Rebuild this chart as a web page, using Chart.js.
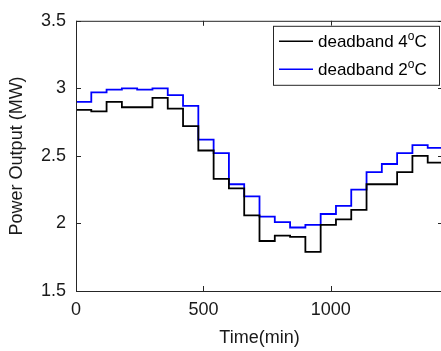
<!DOCTYPE html>
<html>
<head>
<meta charset="utf-8">
<script src="https://cdn.jsdelivr.net/npm/chart.js@4.4.1/dist/chart.umd.min.js"></script>
<style>
html, body { margin: 0; padding: 0; background: #fff; overflow: hidden; }
#wrap { width: 446px; height: 351px; }
</style>
</head>
<body>
<div id="wrap"><canvas id="powerChart" width="446" height="351"></canvas></div>
<script>
// step start times (min), last entry closes the final step
const timeMin = [0, 60, 120, 180, 240, 300, 360, 420, 480, 540, 600, 660, 720,
                 780, 840, 900, 960, 1020, 1080, 1140, 1200, 1260, 1320, 1380, 1440];
const deadband4 = [2.84, 2.83, 2.90, 2.86, 2.86, 2.93, 2.85, 2.72, 2.54, 2.33, 2.26, 2.06,
                   1.87, 1.91, 1.90, 1.79, 1.99, 2.03, 2.10, 2.29, 2.29, 2.38, 2.50, 2.45];
const deadband2 = [2.90, 2.97, 2.99, 3.00, 2.99, 3.00, 2.95, 2.87, 2.62, 2.52, 2.29, 2.20,
                   2.05, 2.01, 1.97, 1.99, 2.07, 2.13, 2.25, 2.38, 2.44, 2.52, 2.58, 2.56];
const seriesLabels = ['deadband 4°C', 'deadband 2°C'];
const seriesColors = ['#000000', '#0000ff'];
const xTicks = [0, 500, 1000];
const yTicks = [1.5, 2, 2.5, 3, 3.5];

const FONT = '"Liberation Sans", Arial, Helvetica, sans-serif';

// value i is held from timeMin[i] to timeMin[i+1]
function toSteps(values) {
    return timeMin.map((t, i) => ({ x: t, y: values[Math.min(i, values.length - 1)] }));
}

// MATLAB-style box, inward ticks and legend
const boxPlugin = {
    id: 'matlabBox',
    afterDraw(chart) {
        const { ctx, chartArea: a, scales } = chart;
        ctx.save();
        ctx.strokeStyle = '#262626';
        ctx.lineWidth = 1;
        ctx.strokeRect(a.left + 0.5, a.top + 0.5, a.right - a.left, a.bottom - a.top);
        ctx.beginPath();
        xTicks.forEach(v => {
            const px = Math.round(scales.x.getPixelForValue(v)) + 0.5;
            ctx.moveTo(px, a.bottom); ctx.lineTo(px, a.bottom - 5);
            ctx.moveTo(px, a.top); ctx.lineTo(px, a.top + 5);
        });
        yTicks.forEach(v => {
            const py = Math.round(scales.y.getPixelForValue(v)) + 0.5;
            ctx.moveTo(a.left, py); ctx.lineTo(a.left + 5, py);
            ctx.moveTo(a.right, py); ctx.lineTo(a.right - 5, py);
        });
        ctx.stroke();

        // legend
        const bx = a.right - 170, by = a.top + 5, bw = 166, bh = 59;
        ctx.fillStyle = '#fff';
        ctx.fillRect(bx, by, bw, bh);
        ctx.strokeStyle = '#262626';
        ctx.strokeRect(bx + 0.5, by + 0.5, bw, bh);
        seriesLabels.forEach((lab, i) => {
            const ly = by + 15.5 + i * 28;
            ctx.strokeStyle = seriesColors[i];
            ctx.lineWidth = 1.6;
            ctx.beginPath();
            ctx.moveTo(bx + 6, ly); ctx.lineTo(bx + 40, ly);
            ctx.stroke();
            const parts = lab.split('°');
            ctx.fillStyle = '#000';
            ctx.textBaseline = 'middle';
            let tx = bx + 45;
            ctx.font = '17px ' + FONT;
            ctx.fillText(parts[0], tx, ly + 1);
            tx += ctx.measureText(parts[0]).width;
            ctx.font = '12px ' + FONT;
            ctx.fillText('o', tx, ly - 5);
            tx += ctx.measureText('o').width;
            ctx.font = '17px ' + FONT;
            ctx.fillText(parts[1], tx, ly + 1);
        });
        ctx.restore();
    }
};

new Chart(document.getElementById('powerChart').getContext('2d'), {
    type: 'line',
    data: {
        datasets: [
            {
                label: seriesLabels[0],
                data: toSteps(deadband4),
                borderColor: seriesColors[0],
                borderWidth: 1.8,
                stepped: 'before',
                pointRadius: 0,
                fill: false
            },
            {
                label: seriesLabels[1],
                data: toSteps(deadband2),
                borderColor: seriesColors[1],
                borderWidth: 1.8,
                stepped: 'before',
                pointRadius: 0,
                fill: false
            }
        ]
    },
    options: {
        responsive: false,
        animation: false,
        layout: { padding: { top: 9, right: 3, left: 0, bottom: 0 } },
        plugins: { legend: { display: false }, tooltip: { enabled: false } },
        scales: {
            x: {
                type: 'linear',
                min: 0,
                max: 1440,
                afterBuildTicks: s => { s.ticks = xTicks.map(v => ({ value: v })); },
                afterFit: s => { s.height = 60; },
                grid: { display: false, drawTicks: false },
                border: { display: false },
                ticks: {
                    padding: 8,
                    color: '#1a1a1a',
                    font: { family: FONT, size: 18 },
                    maxRotation: 0,
                    callback: v => String(v)
                },
                title: {
                    display: true,
                    text: 'Time(min)',
                    color: '#1a1a1a',
                    font: { family: FONT, size: 18 },
                    padding: { top: 0, bottom: 2 }
                }
            },
            y: {
                min: 1.5,
                max: 3.5,
                afterBuildTicks: s => { s.ticks = yTicks.map(v => ({ value: v })); },
                afterFit: s => { s.width = 76; },
                grid: { display: false, drawTicks: false },
                border: { display: false },
                ticks: {
                    padding: 10,
                    color: '#1a1a1a',
                    font: { family: FONT, size: 18 },
                    callback: v => String(v)
                },
                title: {
                    display: true,
                    text: 'Power Output (MW)',
                    color: '#1a1a1a',
                    font: { family: FONT, size: 18 },
                    padding: { top: 6, bottom: 0 }
                }
            }
        }
    },
    plugins: [boxPlugin]
});
</script>
</body>
</html>
